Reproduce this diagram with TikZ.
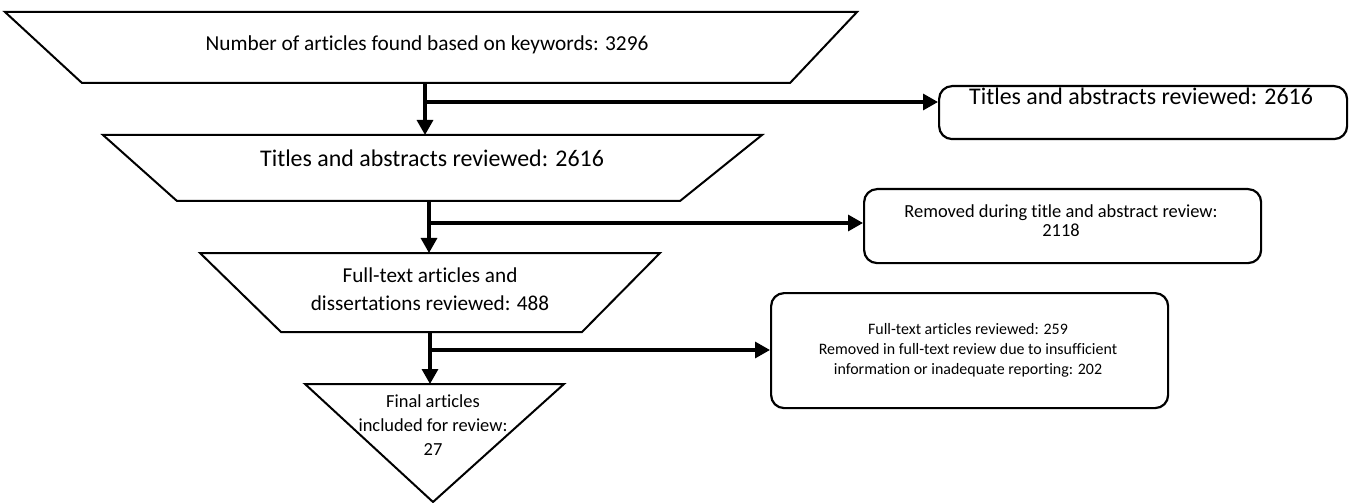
\documentclass[tikz,border=0pt]{standalone}
\usepackage{fontspec}
\setmainfont{Carlito}[RawFeature={-liga;-clig;-dlig;-calt}]
\usetikzlibrary{arrows.meta}
\begin{document}
\begin{tikzpicture}[x=1bp,y=-1bp,
  funnel/.style={draw,line width=2bp,line join=miter},
  rbox/.style={draw,line width=2.2bp,rounded corners=13bp,inner sep=0pt},
  flow/.style={line width=3.2bp,-{Triangle[length=15bp,width=16bp]}},
  txt/.style={align=center,inner sep=0pt}]
\useasboundingbox (0,0) rectangle (1349,503);
% funnel shapes
\draw[funnel] (5,12) -- (857,12) -- (790,83) -- (82,83) -- cycle;
\draw[funnel] (103,135) -- (762,135) -- (680,201) -- (177,201) -- cycle;
\draw[funnel] (200,253) -- (660,253) -- (582,332) -- (281,332) -- cycle;
\draw[funnel] (305,384) -- (564,384) -- (433,502) -- cycle;
% texts
\node[txt,font=\fontsize{21.4}{25}\selectfont] (n1) at (427,45) {Number of articles found based on keywords: 3296};
\node[txt,font=\fontsize{24}{29}\selectfont] (n2) at (432,158) {Titles and abstracts reviewed: 2616};
\node[txt,font=\fontsize{21.3}{28}\selectfont] (n3) at (430,289) {Full-text articles and\\dissertations reviewed: 488};
\node[txt,font=\fontsize{18.5}{24}\selectfont] (n4) at (433,425) {Final articles\\included for review:\\27};
% side boxes
\node[rbox,minimum width=408bp,minimum height=53bp,anchor=north west] (b1) at (938,85) {};
\node[txt,font=\fontsize{24}{29}\selectfont] (b1t) at (1141,96) {Titles and abstracts reviewed: 2616};
\node[rbox,minimum width=397bp,minimum height=74bp,anchor=north west] (b2) at (863,188) {};
\node[txt,font=\fontsize{18.5}{19}\selectfont] (b2t) at (1061,221) {Removed during title and abstract review:\\2118};
\node[rbox,minimum width=397bp,minimum height=115bp,anchor=north west] (b3) at (770,292) {};
\node[txt,font=\fontsize{16}{20}\selectfont] (b3t) at (968,350) {Full-text articles reviewed: 259\\Removed in full-text review due to insufficient\\information or inadequate reporting: 202};
% connector points
\coordinate (s1) at (425,83);
\coordinate (j1) at (425,102);
\coordinate (e1) at (425,135);
\coordinate (s2) at (429,201);
\coordinate (j2) at (429,223);
\coordinate (e2) at (429,253);
\coordinate (s3) at (430,332);
\coordinate (j3) at (430,350);
\coordinate (e3) at (430,384);
% connectors
\draw[flow] (s1) -- (e1);
\draw[flow] (j1) -- (j1 -| b1.west);
\draw[flow] (s2) -- (e2);
\draw[flow] (j2) -- (j2 -| b2.west);
\draw[flow] (s3) -- (e3);
\draw[flow] (j3) -- (j3 -| b3.west);
\end{tikzpicture}
\end{document}
